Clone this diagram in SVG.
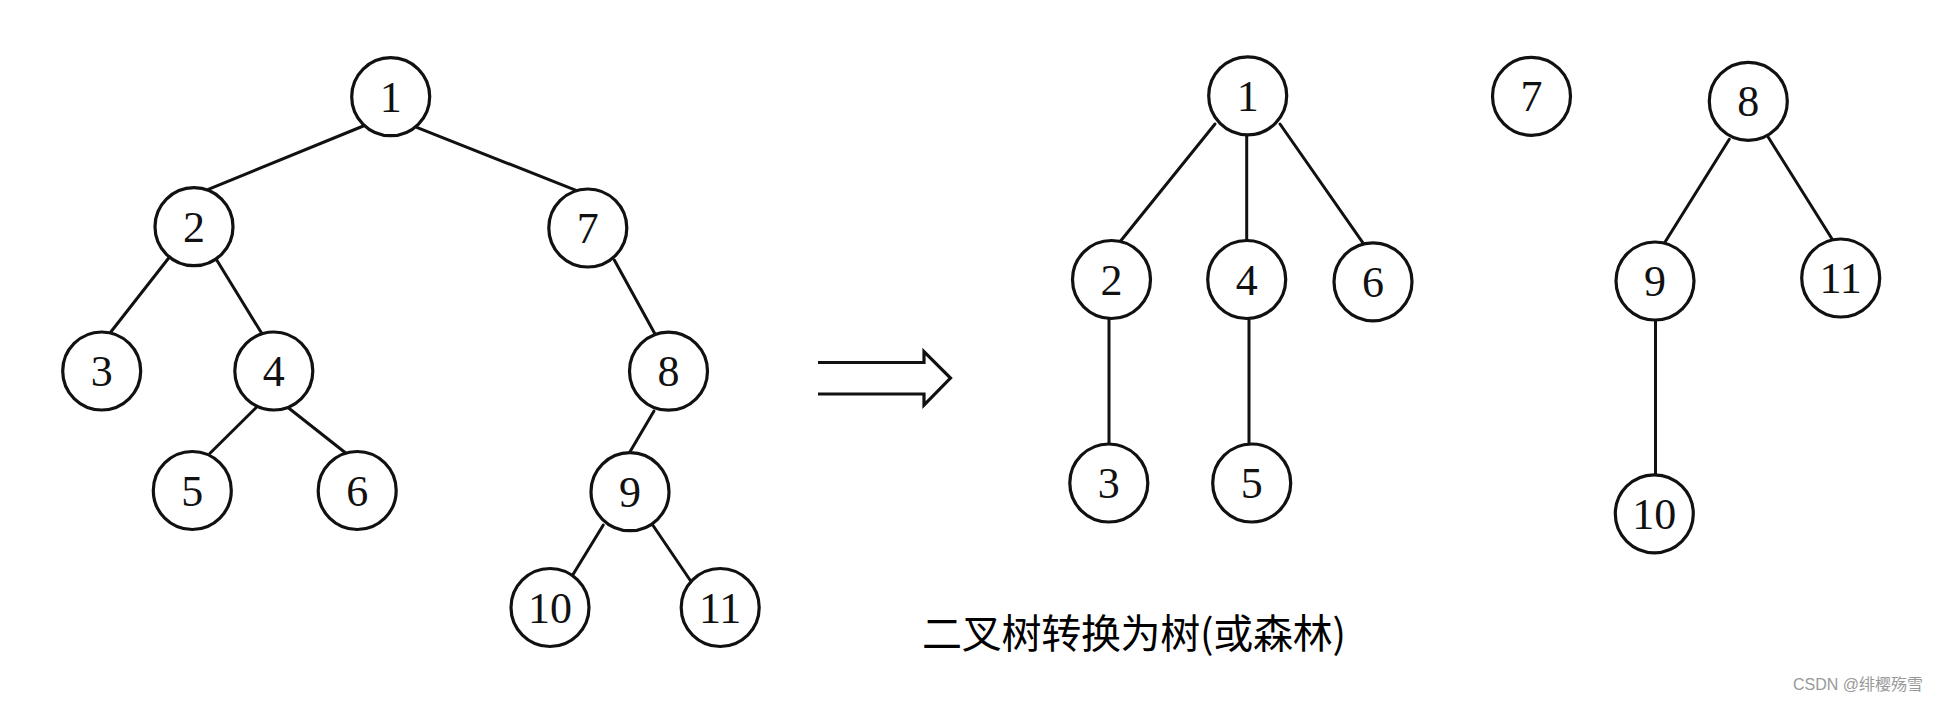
<svg xmlns="http://www.w3.org/2000/svg" width="1942" height="704" viewBox="0 0 1942 704">
<style>
.n circle{fill:#fff;stroke:#111;stroke-width:3.2}
.n text{font-family:"Liberation Serif","Times New Roman",serif;font-size:44px;fill:#111;text-anchor:middle}
.e line{stroke:#111;stroke-width:3;stroke-linecap:round}
.title{font-family:"Noto Sans CJK SC","Microsoft YaHei",sans-serif;font-size:40px;fill:#000}
.wm{font-family:"Liberation Sans","Noto Sans CJK SC",sans-serif;font-size:16px;fill:#999}
</style>
<rect width="1942" height="704" fill="#fff"/>
<g id="connectors" class="e">
<line x1="363.3" y1="126" x2="208.3" y2="189.3"/>
<line x1="416.7" y1="127.3" x2="576.7" y2="190.7"/>
<line x1="169.3" y1="257.3" x2="111" y2="331.7"/>
<line x1="216.7" y1="260" x2="261.7" y2="333.3"/>
<line x1="256" y1="407.7" x2="210" y2="453.3"/>
<line x1="288.3" y1="407.7" x2="346" y2="453.3"/>
<line x1="614.3" y1="260" x2="655" y2="334"/>
<line x1="654" y1="411" x2="630" y2="451.7"/>
<line x1="603.3" y1="525" x2="572.7" y2="575"/>
<line x1="652.7" y1="525" x2="690.7" y2="581"/>
<line x1="1215" y1="124" x2="1120" y2="241.7"/>
<line x1="1246.7" y1="136" x2="1246.7" y2="240.7"/>
<line x1="1280" y1="124" x2="1363.3" y2="243.3"/>
<line x1="1109" y1="318" x2="1109" y2="444"/>
<line x1="1249" y1="318" x2="1249" y2="444"/>
<line x1="1729.3" y1="139.3" x2="1664.3" y2="243.3"/>
<line x1="1768.3" y1="137.3" x2="1832.7" y2="240"/>
<line x1="1655.5" y1="319.3" x2="1655.5" y2="475"/>
</g>
<g id="arrow">
<path d="M818,362.5 H924 V351.5 L950.5,378 L924,405 V394 H818" fill="none" stroke="#111" stroke-width="3.2" stroke-linejoin="miter"/>
</g>
<g id="L1" class="n"><circle cx="390.7" cy="96.7" r="39"/><text x="390.7" y="111.7">1</text></g>
<g id="L2" class="n"><circle cx="194" cy="226.7" r="39"/><text x="194" y="241.7">2</text></g>
<g id="L3" class="n"><circle cx="101.7" cy="371" r="39"/><text x="101.7" y="386">3</text></g>
<g id="L4" class="n"><circle cx="273.8" cy="371" r="39"/><text x="273.8" y="386">4</text></g>
<g id="L5" class="n"><circle cx="192.3" cy="490.5" r="39"/><text x="192.3" y="505.5">5</text></g>
<g id="L6" class="n"><circle cx="357.2" cy="490.5" r="39"/><text x="357.2" y="505.5">6</text></g>
<g id="L7" class="n"><circle cx="587.8" cy="228" r="39"/><text x="587.8" y="243">7</text></g>
<g id="L8" class="n"><circle cx="668.5" cy="371.2" r="39"/><text x="668.5" y="386">8</text></g>
<g id="L9" class="n"><circle cx="630" cy="491.7" r="39"/><text x="630" y="506.7">9</text></g>
<g id="L10" class="n"><circle cx="550" cy="607.5" r="39"/><text x="550" y="622.5">10</text></g>
<g id="L11" class="n"><circle cx="720.2" cy="607.5" r="39"/><text x="720.2" y="622.5">11</text></g>
<g id="R1" class="n"><circle cx="1247.7" cy="95.8" r="39"/><text x="1247.7" y="110.8">1</text></g>
<g id="R2" class="n"><circle cx="1111.5" cy="279.5" r="39"/><text x="1111.5" y="294.5">2</text></g>
<g id="R4" class="n"><circle cx="1246.7" cy="279.5" r="39"/><text x="1246.7" y="294.5">4</text></g>
<g id="R6" class="n"><circle cx="1373" cy="281.8" r="39"/><text x="1373" y="296.8">6</text></g>
<g id="R3" class="n"><circle cx="1108.8" cy="483" r="39"/><text x="1108.8" y="498">3</text></g>
<g id="R5" class="n"><circle cx="1251.7" cy="483" r="39"/><text x="1251.7" y="498">5</text></g>
<g id="R7" class="n"><circle cx="1531.5" cy="96.3" r="39"/><text x="1531.5" y="111.3">7</text></g>
<g id="R8" class="n"><circle cx="1748.3" cy="101.3" r="39"/><text x="1748.3" y="116.3">8</text></g>
<g id="R9" class="n"><circle cx="1655" cy="281" r="39"/><text x="1655" y="296">9</text></g>
<g id="R11" class="n"><circle cx="1840.7" cy="278" r="39"/><text x="1840.7" y="293">11</text></g>
<g id="R10" class="n"><circle cx="1654.3" cy="513.8" r="39"/><text x="1654.3" y="528.8">10</text></g>
<text class="title" x="922" y="648" textLength="424" lengthAdjust="spacing">二叉树转换为树(或森林)</text>
<text class="wm" x="1793" y="690">CSDN @绯樱殇雪</text>
</svg>
